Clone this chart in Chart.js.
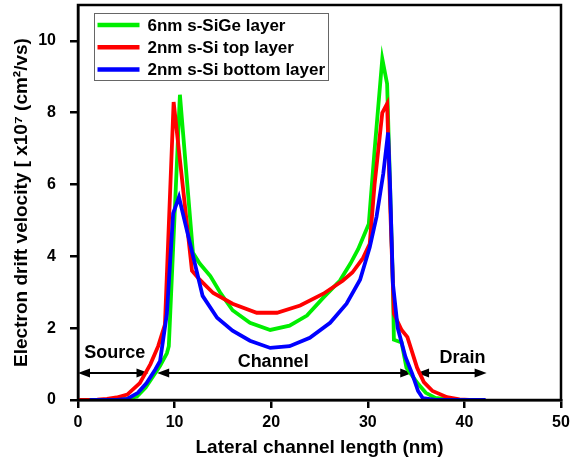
<!DOCTYPE html>
<html><head><meta charset="utf-8">
<script src="https://cdn.jsdelivr.net/npm/chart.js@4"></script>
<style>html,body{margin:0;padding:0;background:#fff}#wrap{width:570px;height:463px;position:relative}</style>
</head><body><div id="wrap"><canvas id="c"></canvas></div>
<script>
// ---- data ----
const xTicks = [0, 10, 20, 30, 40, 50];
const yTicks = [0, 2, 4, 6, 8, 10];
const seriesLabels = ['6nm s-SiGe layer', '2nm s-Si top layer', '2nm s-Si bottom layer'];

const sigeX = [4.0, 5.0, 6.1, 7.0, 7.8, 8.5, 9.2, 9.4, 10.55, 11.3, 11.9, 12.6, 13.7, 14.7, 16.0, 17.8, 19.9, 21.9, 23.7, 25.4, 27.1, 28.2, 29.0, 30.1, 30.7, 31.5, 32.0, 32.3, 32.6, 32.7, 33.5, 34.0, 35.2, 36.0, 37.0, 38.5, 39.5];
const sigeY = [0.0, 0.03, 0.1, 0.35, 0.67, 0.95, 1.3, 1.5, 8.5, 6.05, 4.1, 3.8, 3.45, 3.0, 2.5, 2.15, 1.95, 2.07, 2.35, 2.85, 3.32, 3.8, 4.2, 4.9, 6.95, 9.5, 8.8, 6.0, 3.2, 1.68, 1.6, 0.9, 0.45, 0.2, 0.06, 0.01, 0.0];

const topX = [0, 1, 2, 3, 4, 5.1, 6.4, 7.5, 8.3, 9.0, 9.9, 11.8, 12.6, 14.0, 16.0, 18.5, 20.6, 23.0, 25.4, 27.4, 28.4, 29.5, 30.2, 30.7, 31.5, 32.0, 32.3, 32.7, 33.5, 34.1, 35.1, 35.8, 36.7, 38.2, 39.5, 40.5];
const topY = [0, 0, 0.01, 0.03, 0.07, 0.15, 0.47, 1.0, 1.5, 2.1, 8.3, 3.6, 3.35, 2.98, 2.68, 2.43, 2.43, 2.63, 2.96, 3.32, 3.55, 3.95, 4.35, 6.0, 8.0, 8.25, 5.55, 2.4, 1.95, 1.75, 0.9, 0.5, 0.25, 0.08, 0.02, 0];

const botX = [1.2, 4.0, 5.1, 6.2, 7.1, 8.0, 8.5, 9.2, 9.85, 10.45, 12.9, 14.4, 16.0, 17.8, 19.9, 21.9, 24.0, 26.1, 27.8, 29.2, 30.2, 30.9, 31.6, 32.1, 32.3, 32.6, 33.1, 33.9, 34.6, 35.2, 35.7, 37.0, 42.2];
const botY = [0, 0, 0.03, 0.2, 0.47, 0.85, 1.09, 2.4, 5.2, 5.65, 2.9, 2.29, 1.93, 1.65, 1.45, 1.5, 1.73, 2.15, 2.68, 3.35, 4.25, 5.1, 6.3, 7.45, 6.0, 3.24, 2.0, 1.2, 0.73, 0.25, 0.05, 0, 0];

const regionNames = ['Source', 'Channel', 'Drain'];
const regionFrom = [0, 8.2, 35.1];
const regionTo = [7.3, 34.6, 42.3];
const regionLevel = 0.75;
const regionTextX = [3.8, 20.2, 39.8];
const regionTextY = [1.31, 1.06, 1.17];

// ---- chart ----
const FONT = "'Liberation Sans', Arial, sans-serif";
Chart.defaults.font.family = FONT;
Chart.defaults.font.weight = 'bold';
Chart.defaults.color = '#000';

const toPts = (xs, ys) => xs.map((x, i) => ({x: x, y: ys[i]}));

const annotPlugin = {
  id: 'annot',
  beforeDatasetsDraw(chart) {
    const ctx = chart.ctx, xs = chart.scales.x, ys = chart.scales.y;
    ctx.save();
    ctx.strokeStyle = '#000'; ctx.fillStyle = '#000'; ctx.lineWidth = 2;
    const py = ys.getPixelForValue(regionLevel);
    const head = (x, dir) => {
      ctx.beginPath(); ctx.moveTo(x, py);
      ctx.lineTo(x - dir * 12, py - 4.5); ctx.lineTo(x - dir * 12, py + 4.5);
      ctx.closePath(); ctx.fill();
    };
    for (let i = 0; i < regionNames.length; i++) {
      const a = xs.getPixelForValue(regionFrom[i]), b = xs.getPixelForValue(regionTo[i]);
      ctx.beginPath(); ctx.moveTo(a + 4, py); ctx.lineTo(b - 4, py); ctx.stroke();
      head(a, -1); head(b, 1);
      ctx.font = 'bold 18px ' + FONT; ctx.textAlign = 'center'; ctx.textBaseline = 'middle';
      ctx.fillText(regionNames[i], xs.getPixelForValue(regionTextX[i]), ys.getPixelForValue(regionTextY[i]));
    }
    ctx.restore();
  },
  afterDraw(chart) {
    const ctx = chart.ctx, ca = chart.chartArea;
    ctx.save();
    ctx.strokeStyle = '#000'; ctx.lineWidth = 2.5;
    ctx.strokeRect(ca.left, ca.top, ca.right - ca.left, ca.bottom - ca.top);
    // legend
    const lx = ca.left + 16.5, ly = ca.top + 8.5;
    ctx.lineWidth = 1; ctx.strokeStyle = '#666';
    ctx.fillStyle = '#fff';
    ctx.fillRect(lx, ly, 234, 67);
    ctx.strokeRect(lx, ly, 234, 67);
    ctx.font = 'bold 17px ' + FONT; ctx.textAlign = 'left'; ctx.textBaseline = 'middle';
    chart.data.datasets.forEach((ds, i) => {
      const y = ly + 11.5 + i * 22.3;
      ctx.strokeStyle = ds.borderColor; ctx.lineWidth = 4.5;
      ctx.beginPath(); ctx.moveTo(lx + 3, y); ctx.lineTo(lx + 45, y); ctx.stroke();
      ctx.fillStyle = '#000';
      ctx.fillText(ds.label, lx + 53, y + 1);
    });
    ctx.restore();
  }
};

new Chart(document.getElementById('c'), {
  type: 'line',
  data: {
    datasets: [
      {label: seriesLabels[0], data: toPts(sigeX, sigeY), borderColor: '#00ee00', order: 2},
      {label: seriesLabels[1], data: toPts(topX, topY), borderColor: '#ff0000', order: 1},
      {label: seriesLabels[2], data: toPts(botX, botY), borderColor: '#0000ff', order: 0}
    ].map(d => Object.assign(d, {borderWidth: 3.8, pointRadius: 0, tension: 0, fill: false}))
  },
  options: {
    responsive: true, maintainAspectRatio: false, animation: false, devicePixelRatio: 1,
    layout: {padding: {top: 5, right: 9, left: 0, bottom: 0}},
    plugins: {legend: {display: false}, tooltip: {enabled: false}},
    scales: {
      x: {
        type: 'linear', min: 0, max: 50,
        afterBuildTicks: a => { a.ticks = xTicks.map(v => ({value: v})); },
        afterFit: a => { a.height = 63; a.paddingLeft = 0; a.paddingRight = 0; a.paddingTop = 0; a.paddingBottom = 0; },
        ticks: {font: {size: 16, weight: 'bold'}, padding: 5, maxRotation: 0},
        grid: {drawOnChartArea: false, drawTicks: true, tickLength: 8, color: '#000', lineWidth: 2.5},
        border: {color: '#000', width: 2.5},
        title: {display: true, text: 'Lateral channel length (nm)', font: {size: 19, weight: 'bold'}, padding: {top: 0, bottom: 4}}
      },
      y: {
        type: 'linear', min: 0, max: 11,
        afterBuildTicks: a => { a.ticks = yTicks.map(v => ({value: v})); },
        afterFit: a => { a.width = 78; a.paddingTop = 0; a.paddingBottom = 0; a.paddingLeft = 0; a.paddingRight = 0; },
        ticks: {font: {size: 16, weight: 'bold'}, padding: 14},
        grid: {drawOnChartArea: false, drawTicks: true, tickLength: 8, color: '#000', lineWidth: 2.5},
        border: {color: '#000', width: 2.5},
        title: {display: true, text: 'Electron drift velocity [ x10\u2077 (cm\u00b2/vs)', font: {size: 19, weight: 'bold'}, padding: {top: 10, bottom: 0}}
      }
    }
  },
  plugins: [annotPlugin]
});
</script></body></html>
